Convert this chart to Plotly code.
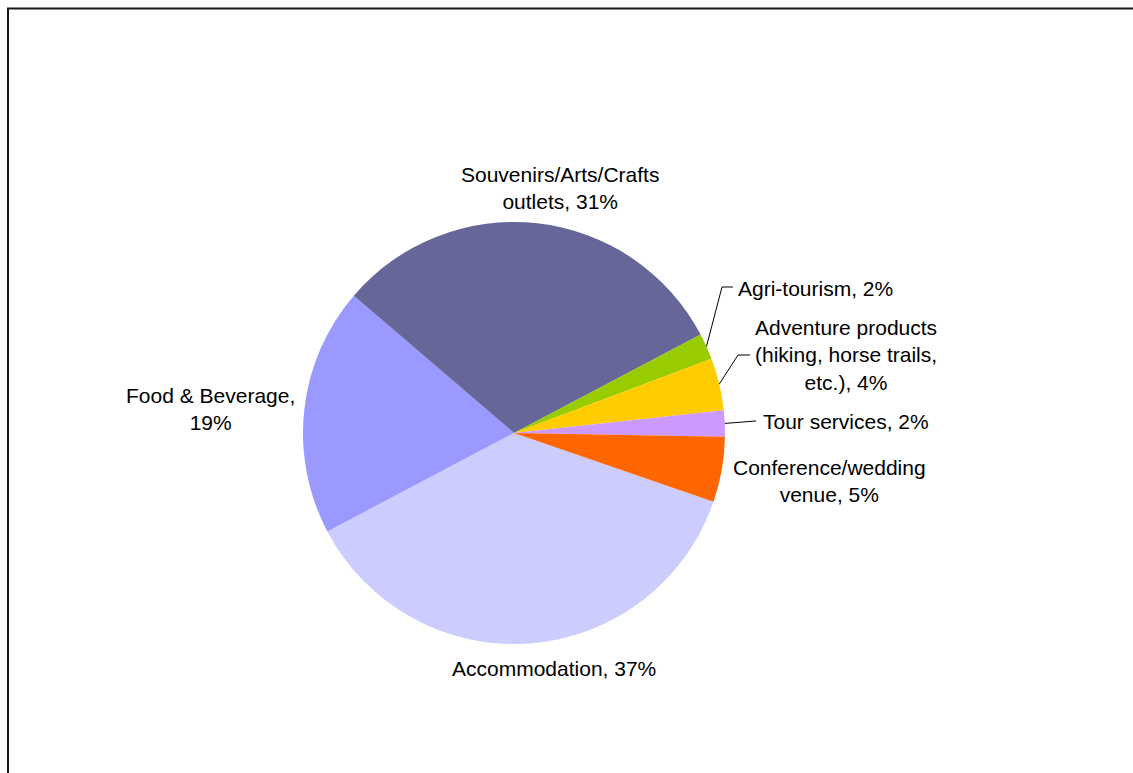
import math
import plotly.graph_objects as go

# Category shares (%), listed clockwise starting from Accommodation
labels = [
    "Accommodation",
    "Food & Beverage",
    "Souvenirs/Arts/Crafts outlets",
    "Agri-tourism",
    "Adventure products (hiking, horse trails, etc.)",
    "Tour services",
    "Conference/wedding venue",
]
values = [37, 19, 31, 2, 4, 2, 5]
colors = ["#CCCCFF", "#9999FF", "#666699", "#99CC00", "#FFCC00", "#CC99FF", "#FF6600"]

# Text shown for each slice (line breaks as drawn)
label_text = [
    "Accommodation, {v}%",
    "Food & Beverage,<br>{v}%",
    "Souvenirs/Arts/Crafts<br>outlets, {v}%",
    "Agri-tourism, {v}%",
    "Adventure products<br>(hiking, horse trails,<br>etc.), {v}%",
    "Tour services, {v}%",
    "Conference/wedding<br>venue, {v}%",
]

# Page geometry (pixels)
W, H = 1133, 773
CX, CY, R = 514, 433, 211
ROTATION = 109  # start of first slice, degrees clockwise from 12 o'clock

# Label centres in pixels
label_pos = [
    (554, 668),
    (210, 409),
    (560, 188),
    (815, 288),
    (846, 355),
    (846, 422),
    (829, 481),
]
# Elbow points for leader lines (None = no leader); text-side end then bend
leader_pts = {
    3: [(733, 287), (722, 287)],
    4: [(750, 355), (738, 355)],
    5: [(756, 421)],
}


def px(x):
    return x / W


def py(y):
    return 1 - y / H


fig = go.Figure(
    go.Pie(
        labels=labels,
        values=values,
        sort=False,
        direction="clockwise",
        rotation=ROTATION,
        marker=dict(colors=colors, line=dict(width=0)),
        textinfo="none",
        showlegend=False,
        domain=dict(x=[px(CX - R), px(CX + R)], y=[py(CY + R), py(CY - R)]),
    )
)

annotations = []
for i, (lab, v) in enumerate(zip(label_text, values)):
    x, y = label_pos[i]
    annotations.append(
        dict(
            x=px(x), y=py(y), xref="paper", yref="paper",
            text=lab.format(v=v), showarrow=False,
            xanchor="center", yanchor="middle", align="center",
            font=dict(family="Liberation Sans, Arial, sans-serif", size=21, color="#000000"),
        )
    )

# Leader lines end on the pie edge at each slice's mid-angle
total = sum(values)
shapes = []
cum = 0
for i, v in enumerate(values):
    mid = cum + v / 2
    cum += v
    if i not in leader_pts:
        continue
    ang = math.radians(90 - ROTATION - mid / total * 360)
    ex, ey = CX + R * math.cos(ang), CY - R * math.sin(ang)
    pts = leader_pts[i] + [(ex, ey)]
    path = "M " + " L ".join(f"{px(a):.5f},{py(b):.5f}" for a, b in pts)
    shapes.append(dict(type="path", xref="paper", yref="paper", path=path,
                       line=dict(color="#000000", width=1)))

# Outer frame
shapes.append(dict(type="rect", xref="paper", yref="paper",
                   x0=px(8), y0=py(8.5), x1=1.02, y1=-0.02,
                   line=dict(color="#1a1a1a", width=2), fillcolor="rgba(0,0,0,0)"))

fig.update_layout(
    width=W, height=H,
    margin=dict(l=0, r=0, t=0, b=0),
    paper_bgcolor="white", plot_bgcolor="white",
    annotations=annotations, shapes=shapes,
)

fig.write_html("out.html")
